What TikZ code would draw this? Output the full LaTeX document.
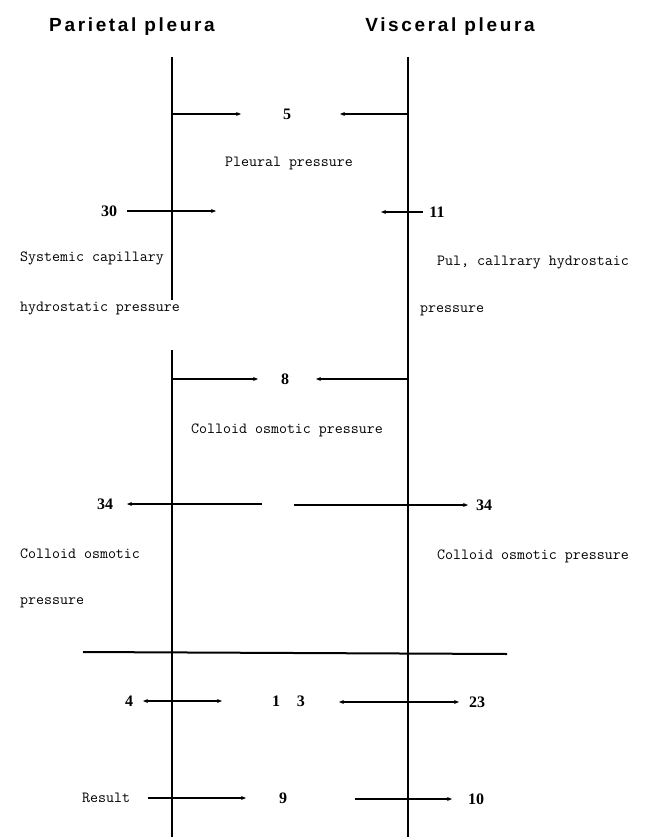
\documentclass[tikz,border=0pt]{standalone}
\usepackage{fontspec}
\newfontfamily\titlefont[LetterSpace=14]{Liberation Sans}
\newfontfamily\digitfont{Liberation Serif}
\usetikzlibrary{arrows.meta}
\tikzset{
  pleura/.style={line width=1.4pt},
  arr/.style={line width=1.1pt,-{Stealth[length=5pt,width=4pt]}},
  darr/.style={line width=1.1pt,{Stealth[length=5pt,width=4pt]}-{Stealth[length=5pt,width=4pt]}},
  title/.style={inner sep=0pt,font=\titlefont\bfseries\fontsize{19}{22}\selectfont},
  lab/.style={inner sep=0pt,font=\ttfamily\fontsize{15.5}{18}\selectfont},
  num/.style={inner sep=0pt,font=\digitfont\bfseries\fontsize{16}{18}\selectfont},
}
\begin{document}
\begin{tikzpicture}[x=1pt,y=-1pt]
\useasboundingbox (0,0) rectangle (647,837);
% titles
\node[title] (tpar) at (132,27) {Parietal pleura};
\node[title] (tvis) at (450,27) {Visceral pleura};
% pleura lines
\coordinate (L1) at (172,57); \coordinate (L2) at (172,300);
\coordinate (L3) at (172,350); \coordinate (L4) at (172,837);
\coordinate (R1) at (408,57); \coordinate (R2) at (408,837);
\draw[pleura] (L1) -- (L2);
\draw[pleura] (L3) -- (L4);
\draw[pleura] (R1) -- (R2);
% row 5
\node[num] (n5) at (287,114) {5};
\coordinate (a5l) at (172,114); \coordinate (b5l) at (241,114);
\coordinate (a5r) at (408,114); \coordinate (b5r) at (340,114);
\draw[arr] (a5l) -- (b5l);
\draw[arr] (a5r) -- (b5r);
\node[lab] (pp) at (289,163) {Pleural pressure};
% row 30 / 11
\node[num] (n30) at (109,211) {30};
\coordinate (a30) at (127,211); \coordinate (b30) at (216,211);
\draw[arr] (a30) -- (b30);
\node[num] (n11) at (437,212) {11};
\coordinate (a11) at (423,212); \coordinate (b11) at (381,212);
\draw[arr] (a11) -- (b11);
\node[lab,anchor=west] (sc1) at (20,258) {Systemic capillary};
\node[lab,anchor=west] (sc2) at (20,309) {hydrostatic pressure};
\node[lab,anchor=west] (pc1) at (437,263) {Pul, callrary hydrostaic};
\node[lab,anchor=west] (pc2) at (420,311) {pressure};
% row 8
\node[num] (n8) at (285,379) {8};
\coordinate (a8l) at (172,379); \coordinate (b8l) at (258,379);
\coordinate (a8r) at (408,379); \coordinate (b8r) at (316,379);
\draw[arr] (a8l) -- (b8l);
\draw[arr] (a8r) -- (b8r);
\node[lab] (cop) at (287,430) {Colloid osmotic pressure};
% row 34
\node[num] (n34l) at (105,504) {34};
\node[num] (n34r) at (484,505) {34};
\coordinate (a34l) at (262,504); \coordinate (b34l) at (127,504);
\coordinate (a34r) at (294,505); \coordinate (b34r) at (468,505);
\draw[arr] (a34l) -- (b34l);
\draw[arr] (a34r) -- (b34r);
\node[lab,anchor=west] (co1) at (20,554) {Colloid osmotic};
\node[lab,anchor=west] (co2) at (20,603) {pressure};
\node[lab,anchor=west] (co3) at (437,556) {Colloid osmotic pressure};
% sum line
\coordinate (h1) at (83,652); \coordinate (h2) at (507,654);
\draw[line width=2pt] (h1) -- (h2);
% row 4 / 13 / 23
\node[num] (n4) at (129,701) {4};
\node[num] (n13) at (288.5,701) {1\hspace{17pt}3};
\node[num] (n23) at (477,702) {23};
\coordinate (a4) at (143,701); \coordinate (b4) at (222,701);
\coordinate (a23) at (339,702); \coordinate (b23) at (459,702);
\draw[darr] (a4) -- (b4);
\draw[darr] (a23) -- (b23);
% result row
\node[lab,anchor=west] (res) at (82,798) {Result};
\node[num] (n9) at (283,798) {9};
\node[num] (n10) at (476,799) {10};
\coordinate (a9) at (148,798); \coordinate (b9) at (246,798);
\coordinate (a10) at (355,799); \coordinate (b10) at (452,799);
\draw[arr] (a9) -- (b9);
\draw[arr] (a10) -- (b10);
\end{tikzpicture}
\end{document}
